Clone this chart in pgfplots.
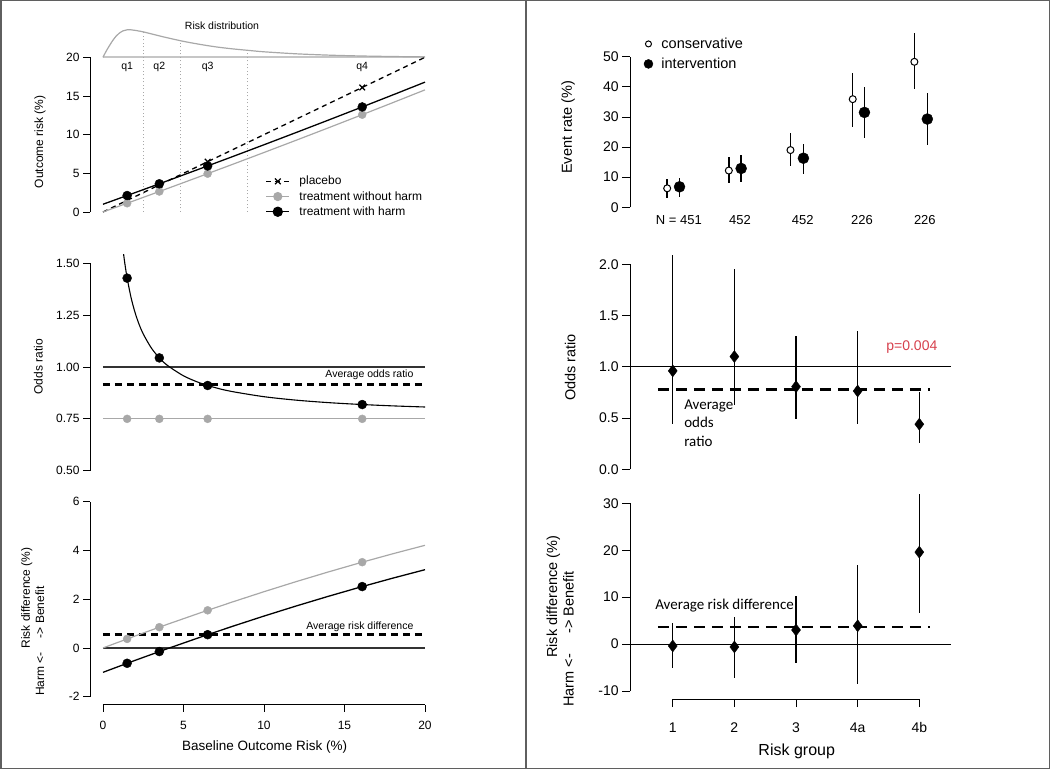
\documentclass[border=0pt]{standalone}
\usepackage{pgfplots}
\pgfplotsset{compat=1.18}
\usepackage{pgfplotstable}
\usepackage{fontspec}
\setmainfont{Liberation Sans}
\newfontfamily\carl{Carlito}

\definecolor{rgray}{RGB}{168,168,168}
\definecolor{lgray}{RGB}{198,198,198}
\definecolor{pred}{RGB}{214,64,76}
\definecolor{framec}{RGB}{95,95,95}
\newcommand\fsz[2]{\fontsize{#1}{#2}\selectfont}

% ---- left column: model ----
\pgfplotstableread{
x d
0 20
0.2 20.8
0.4 21.5
0.6 22.15
0.8 22.7
1.0 23.1
1.25 23.42
1.5 23.55
1.75 23.55
2.0 23.48
2.5 23.29
3.0 23.03
3.5 22.77
4.0 22.52
5.0 22.06
6.0 21.68
7.0 21.35
8.0 21.10
9.0 20.90
10 20.71
12 20.45
14 20.28
16 20.17
18 20.10
20 20.05
}\riskdist

\pgfplotstableread{
x g b
0 0.000 1.000
2 1.508 2.508
4 3.030 4.030
6 4.569 5.569
8 6.122 7.122
10 7.692 8.692
12 9.278 10.278
14 10.881 11.881
16 12.500 13.500
18 14.136 15.136
20 15.789 16.789
}\risk

\pgfplotstableread{
x p g b
1.5 1.5 1.129 2.129
3.5 3.5 2.648 3.648
6.5 6.5 4.956 5.956
16.1 16.1 12.581 13.581
}\riskpts

\pgfplotstableread{
x or
1.28 1.544
1.35 1.503
1.4 1.477
1.5 1.4285
1.75 1.3324
2.0 1.2605
2.25 1.2042
2.5 1.1593
3.0 1.0920
3.5 1.0439
4.0 1.0079
5.0 0.9575
6.0 0.9238
7.0 0.8999
8.0 0.8819
10 0.8568
12 0.8401
14 0.8282
16 0.8194
18 0.8125
20 0.8071
}\orcurve

\pgfplotstableread{
x or
1.5 1.4285
3.5 1.0439
6.5 0.9109
16.1 0.8190
}\orpts

\pgfplotstableread{
x g b
0 0.000 -1.000
2 0.492 -0.508
4 0.970 -0.030
6 1.431 0.431
8 1.878 0.878
10 2.308 1.308
12 2.722 1.722
14 3.119 2.119
16 3.500 2.500
18 3.864 2.864
20 4.211 3.211
}\rd

\pgfplotstableread{
x g b
1.5 0.371 -0.629
3.5 0.852 -0.148
6.5 1.544 0.544
16.1 3.519 2.519
}\rdpts

% ---- right column: trial ----
\pgfplotstableread{
x y ep em
0.91 6.3 3.0 3.3
1.91 12.2 4.6 4.2
2.91 19.0 5.6 5.2
3.92 35.9 8.8 9.3
4.92 48.3 9.5 9.1
}\cons

\pgfplotstableread{
x y ep em
1.11 6.8 3.0 3.5
2.11 12.9 4.4 4.6
3.12 16.3 4.7 5.2
4.11 31.5 8.3 8.6
5.13 29.3 8.5 8.6
}\interv

\pgfplotstableread{
x y ep em
1 0.96 1.13 0.52
2 1.10 0.85 0.47
3 0.806 0.494 0.318
4 0.764 0.586 0.324
5 0.44 0.317 0.186
}\orgrp

\pgfplotstableread{
x y ep em
1 -0.4 4.9 4.7
2 -0.6 6.4 6.6
3 3.0 7.2 7.1
4 3.9 12.9 12.3
5 19.6 12.4 12.9
}\rdgrp

\pgfplotsset{
  Rbase/.style={scale only axis, clip=false, anchor=south west,
    tick align=outside, major tick length=7pt,
    tick style={black, line width=0.8pt},
    axis line style={-, line width=0.9pt},
    /pgf/number format/assume math mode=true,
    ylabel style={anchor=center}, xlabel style={anchor=center}},
  Ronlyy/.style={axis x line=none, axis y line*=left, xtick=\empty},
  Lfont/.style={ticklabel style={font=\fsz{12}{14}}, label style={font=\fsz{12}{14}}},
  Rfont/.style={ticklabel style={font=\fsz{14}{17}}, label style={font=\fsz{14.5}{17}}},
  errb/.style={only marks, mark=none, forget plot,
    error bars/.cd, y dir=both, y explicit, error mark=none,
    error bar style={black, line width=1.5pt}},
}

\begin{document}
\begin{tikzpicture}
\useasboundingbox (0pt,0pt) rectangle (1050pt,769pt);
\draw[framec, line width=1.5pt] (0.75pt,0.75pt) rectangle (1049.25pt,768.25pt);
\draw[framec, line width=2pt] (526pt,0pt) -- (526pt,769pt);

% top left: outcome risk
\begin{axis}[Rbase, Ronlyy, Lfont, at={(90.1pt,557pt)}, width=347.8pt, height=154.7pt,
  xmin=-0.8, xmax=20.8, ymin=0, ymax=20, ytick={0,5,10,15,20},
  ylabel={Outcome risk (\%)}, ylabel style={at={(axis description cs:-0.144,0.454)}},
  legend style={at={(axis cs:10.09,4.84)}, anchor=north west, draw=none, fill=none,
    inner sep=0pt, font=\fsz{12}{14}, row sep=2pt,
    nodes={inner sep=1.5pt, anchor=west},
    /tikz/every odd column/.append style={column sep=8pt}},
  legend cell align=left,
  legend image code/.code={\draw[mark repeat=2,mark phase=2,#1] plot coordinates {(0pt,0pt) (11.5pt,0pt) (23pt,0pt)};}]
\addplot[lgray, line width=2pt, forget plot] coordinates {(0,20) (20,20)};
\addplot[rgray, line width=1.2pt, smooth, forget plot] table[x=x,y=d] \riskdist;
\addplot[rgray, line width=0.8pt, dash pattern=on 1pt off 2.5pt, forget plot] coordinates {(2.48,0) (2.48,23.3)};
\addplot[rgray, line width=0.8pt, dash pattern=on 1pt off 2.5pt, forget plot] coordinates {(4.78,0) (4.78,22.2)};
\addplot[rgray, line width=0.8pt, dash pattern=on 1pt off 2.5pt, forget plot] coordinates {(8.94,0) (8.94,20.9)};
\node[font=\fsz{10.5}{12}] at (axis cs:7.39,24.13) {Risk distribution};
\node[font=\fsz{10.5}{12}] at (axis cs:1.5,18.7) {q1};
\node[font=\fsz{10.5}{12}] at (axis cs:3.5,18.7) {q2};
\node[font=\fsz{10.5}{12}] at (axis cs:6.5,18.7) {q3};
\node[font=\fsz{10.5}{12}] at (axis cs:16.1,18.7) {q4};

\addplot[black, line width=1.3pt, dash pattern=on 5pt off 4pt, forget plot] coordinates {(0,0) (20,20)};
\addplot[rgray, line width=1.2pt, forget plot] table[x=x,y=g] \risk;
\addplot[black, line width=1.3pt, forget plot] table[x=x,y=b] \risk;
\addplot[only marks, mark=x, mark size=4pt, mark options={line width=1.2pt}, black, forget plot] table[x=x,y=p] \riskpts;
\addplot[only marks, mark=*, mark size=4pt, rgray, forget plot] table[x=x,y=g] \riskpts;
\addplot[only marks, mark=*, mark size=4.5pt, black, forget plot] table[x=x,y=b] \riskpts;

\addlegendimage{black, line width=1.3pt, dash pattern=on 5pt off 4pt, mark=x, mark size=4pt, mark options={solid, line width=1.2pt}}
\addlegendentry{placebo}
\addlegendimage{rgray, line width=1.2pt, mark=*, mark size=4pt}
\addlegendentry{treatment without harm}
\addlegendimage{black, line width=1.3pt, mark=*, mark size=4.5pt}
\addlegendentry{treatment with harm}
\end{axis}

% middle left: odds ratio
\begin{axis}[Rbase, Ronlyy, Lfont, at={(90.1pt,298.3pt)}, width=347.8pt, height=207.4pt,
  xmin=-0.8, xmax=20.8, ymin=0.5, ymax=1.5, ytick={0.5,0.75,1,1.25,1.5},
  yticklabel style={/pgf/number format/.cd, fixed, fixed zerofill, precision=2},
  ylabel={Odds ratio}, ylabel style={at={(axis description cs:-0.149,0.501)}}]
\addplot[black!80, line width=1.2pt] coordinates {(0,1) (20,1)};
\addplot[black, line width=2.5pt, dash pattern=on 7pt off 5pt] coordinates {(0,0.915) (20,0.915)};
\addplot[rgray, line width=1.2pt] coordinates {(0,0.75) (20,0.75)};
\addplot[only marks, mark=*, mark size=4pt, rgray] coordinates {(1.5,0.75) (3.5,0.75) (6.5,0.75) (16.1,0.75)};
\addplot[black, line width=1.1pt, smooth] table[x=x,y=or] \orcurve;
\addplot[only marks, mark=*, mark size=4.5pt, black] table[x=x,y=or] \orpts;
\node[anchor=east, font=\fsz{10.5}{12}] at (axis cs:19.5,0.961) {Average odds ratio};
\end{axis}

% bottom left: risk difference
\begin{axis}[Rbase, Lfont, axis lines*=left, at={(90.1pt,64.5pt)}, width=334.9pt, height=202.8pt,
  xmin=-0.8, xmax=20, ymin=-2.32, ymax=6, xtick={0,5,10,15,20}, ytick={-2,0,2,4,6},
  x axis line style={shorten <=12.9pt}, y axis line style={shorten <=7.8pt},
  xticklabel style={yshift=-6pt},
  xlabel={Baseline Outcome Risk (\%)},
  xlabel style={at={(axis description cs:0.521,-0.208)}, font=\fsz{13.5}{16}},
  ylabel={Risk difference (\%)}, ylabel style={at={(axis description cs:-0.189,0.525)}}]
\addplot[black!80, line width=1.2pt] coordinates {(0,0) (20,0)};
\addplot[black, line width=2.5pt, dash pattern=on 7pt off 5pt] coordinates {(0,0.55) (20,0.55)};
\addplot[rgray, line width=1.2pt] table[x=x,y=g] \rd;
\addplot[black, line width=1.3pt] table[x=x,y=b] \rd;
\addplot[only marks, mark=*, mark size=4pt, rgray] table[x=x,y=g] \rdpts;
\addplot[only marks, mark=*, mark size=4.5pt, black] table[x=x,y=b] \rdpts;
\node[anchor=east, font=\fsz{10.5}{12}] at (axis cs:19.5,0.86) {Average risk difference};
\node[rotate=90, font=\fsz{12}{14}] at (axis description cs:-0.150,0.313) {Harm <-\hspace{14pt}-> Benefit};
\end{axis}

% top right: event rates
\begin{axis}[Rbase, Ronlyy, Rfont, at={(630.2pt,561.7pt)}, width=289.1pt, height=150.6pt,
  xmin=0.31, xmax=5, ymin=0, ymax=50, ytick={0,10,20,30,40,50},
  major tick length=8pt,
  ylabel={Event rate (\%)}, ylabel style={at={(axis description cs:-0.215,0.530)}},
  legend style={at={(axis cs:0.53,56.8)}, anchor=north west, draw=none, fill=none,
    inner sep=0pt, font=\fsz{14.5}{17}, row sep=5pt,
    nodes={inner sep=1.5pt, anchor=west},
    /tikz/every odd column/.append style={column sep=7pt}},
  legend cell align=left,
  legend image code/.code={\draw[#1] plot coordinates {(4pt,0pt)};}]
\addplot[errb] table[x=x, y=y, y error plus=ep, y error minus=em] \cons;
\addplot[errb] table[x=x, y=y, y error plus=ep, y error minus=em] \interv;
\addplot[only marks, mark=*, mark size=3.5pt, mark options={fill=white, draw=black, line width=1pt}, forget plot] table[x=x,y=y] \cons;
\addplot[only marks, mark=*, mark size=5.5pt, black, forget plot] table[x=x,y=y] \interv;
\addlegendimage{only marks, mark=*, mark size=3pt, mark options={fill=white, draw=black, line width=1pt}}
\addlegendentry{conservative}
\addlegendimage{only marks, mark=*, mark size=4.5pt, black}
\addlegendentry{intervention}
\node[font=\fsz{13}{15}] at (axis cs:1.10,-4.2) {N = 451};
\node[font=\fsz{13}{15}] at (axis cs:2.09,-4.2) {452};
\node[font=\fsz{13}{15}] at (axis cs:3.11,-4.2) {452};
\node[font=\fsz{13}{15}] at (axis cs:4.07,-4.2) {226};
\node[font=\fsz{13}{15}] at (axis cs:5.09,-4.2) {226};
\end{axis}

% middle right: odds ratio by group
\begin{axis}[Rbase, Ronlyy, Rfont, at={(630.2pt,299.7pt)}, width=289.1pt, height=205pt,
  xmin=0.31, xmax=5, ymin=0, ymax=2, ytick={0,0.5,1,1.5,2},
  major tick length=8pt,
  yticklabel style={/pgf/number format/.cd, fixed, fixed zerofill, precision=1},
  ylabel={Odds ratio}, ylabel style={at={(axis description cs:-0.208,0.497)}}]
\addplot[black, line width=1.1pt] coordinates {(0.31,1) (5.514,1)};
\addplot[black, line width=2.5pt, dash pattern=on 11pt off 7pt] coordinates {(0.757,0.78) (5.17,0.78)};
\addplot[errb] table[x=x, y=y, y error plus=ep, y error minus=em] \orgrp;
\addplot[only marks, mark=diamond*, mark size=6pt, black] table[x=x,y=y] \orgrp;
\node[anchor=east, text=pred, font=\fsz{14}{17}] at (axis cs:5.35,1.19) {p=0.004};
\node[anchor=west, align=left, font=\carl\fsz{15}{18.5}] at (axis cs:1.13,0.453) {Average\\odds\\ratio};
\end{axis}

% bottom right: risk difference by group
\begin{axis}[Rbase, Rfont, axis lines*=left, at={(630.2pt,70pt)}, width=289.1pt, height=195.7pt,
  xmin=0.31, xmax=5, ymin=-11.7, ymax=30, ytick={-10,0,10,20,30},
  xtick={1,2,3,4,5}, xticklabels={1,2,3,4a,4b},
  major tick length=8pt,
  x axis line style={shorten <=42.5pt}, y axis line style={shorten <=7.9pt},
  xticklabel style={yshift=-12pt},
  xlabel={Risk group},
  xlabel style={at={(axis description cs:0.576,-0.269)}, font=\fsz{16}{19}},
  ylabel={Risk difference (\%)}, ylabel style={at={(axis description cs:-0.266,0.523)}}]
\addplot[black, line width=1.1pt] coordinates {(0.31,0) (5.514,0)};
\addplot[black, line width=2.5pt, dash pattern=on 11pt off 7pt] coordinates {(0.757,3.6) (5.18,3.6)};
\addplot[errb] table[x=x, y=y, y error plus=ep, y error minus=em] \rdgrp;
\addplot[only marks, mark=diamond*, mark size=6pt, black] table[x=x,y=y] \rdgrp;
\node[anchor=west, font=\carl\fsz{15}{18}] at (axis cs:0.66,8.2) {Average risk difference};
\node[rotate=90, font=\fsz{14.5}{17}] at (axis description cs:-0.214,0.307) {Harm <-\hspace{20pt}-> Benefit};
\end{axis}
\end{tikzpicture}
\end{document}
